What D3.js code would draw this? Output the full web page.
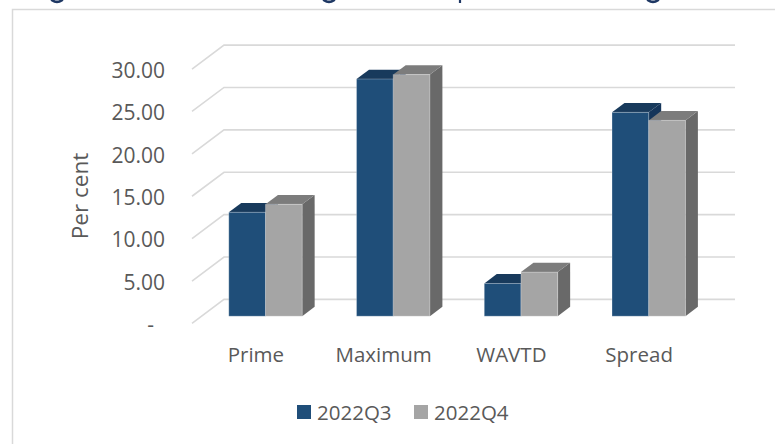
<!DOCTYPE html>
<html>
<head>
<meta charset="utf-8">
<script src="https://cdn.jsdelivr.net/npm/d3@7/dist/d3.min.js"></script>
<style>
  html, body { margin: 0; padding: 0; background: #fff; overflow: hidden; }
  svg { display: block; }
  text { font-family: "Open Sans", sans-serif; fill: #595959; }
  .axis path, .axis line { display: none; }
</style>
</head>
<body>
<svg id="chart" width="775" height="444"></svg>
<script>
// Lending rates by category, per cent
const categories = ["Prime", "Maximum", "WAVTD", "Spread"];
const seriesNames = ["2022Q3", "2022Q4"];
const values2022Q3 = [12.26, 27.98, 3.86, 24.05];
const values2022Q4 = [13.2, 28.5, 5.2, 23.1];
const axisTicks = [0, 5, 10, 15, 20, 25, 30];
const headingTailCentres = [57, 329, 653];
const headingStemCentres = [460];

const W = 775, H = 444;
const svg = d3.select("#chart");

// Oblique projection of the 3-D floor: depth 0 is the front edge, 1 the back wall
const depthX = d3.scaleLinear().domain([0, 1]).range([0, 32]);
const depthY = d3.scaleLinear().domain([0, 1]).range([0, -24]);
const barFront = 0.3, barBack = 0.69;

const x = d3.scaleBand().domain(categories).range([192, 703])
  .paddingInner(0.4255).paddingOuter(0.2128);
const inner = d3.scaleBand().domain(seriesNames).range([0, x.bandwidth()]);
const y = d3.scaleLinear().domain([0, 30]).range([323.4, 69.1]);
const colour = d3.scaleOrdinal().domain(seriesNames).range(["#1f4e79", "#a5a5a5"]);
const topColour = d3.scaleOrdinal().domain(seriesNames).range(["#183a5c", "#7c7c7c"]);
const sideColour = d3.scaleOrdinal().domain(seriesNames).range(["#15355a", "#696969"]);

// Chart frame, running past the right and bottom edges of the page
svg.append("rect")
  .attr("x", 12.5).attr("y", 9.5).attr("width", W).attr("height", H)
  .attr("fill", "#fff").attr("stroke", "#d9d9d9").attr("stroke-width", 1.5);

// Strokes of the heading that reach below the top edge of the page
const headingTail = svg.append("g").attr("fill", "none").attr("stroke", "#1f3864");
headingTail.selectAll("path").data(headingTailCentres).join("path")
  .attr("stroke-width", 2.6).attr("stroke-linecap", "round")
  .attr("d", c => `M${c - 5},0.2Q${c},3.6 ${c + 5},0.2`);
headingTail.selectAll("line").data(headingStemCentres).join("line")
  .attr("stroke-width", 2.2)
  .attr("x1", c => c).attr("x2", c => c).attr("y1", 0).attr("y2", 3);

// Gridlines: the floor-side diagonal plus the run along the back wall
const wallRight = x.range()[1] + depthX(1);
const gridLine = d3.line();
svg.append("g").selectAll("path").data(axisTicks).join("path")
  .attr("fill", "none").attr("stroke", "#d9d9d9").attr("stroke-width", 1.6)
  .attr("d", t => gridLine([
    [x.range()[0], y(t)],
    [x.range()[0] + depthX(1), y(t) + depthY(1)],
    [wallRight, y(t) + depthY(1)]
  ]));

// Value axis, printed against the front edge
const tickFormat = v => v === 0 ? "-" : d3.format(".2f")(v);
const yAxis = svg.append("g").attr("class", "axis")
  .attr("transform", "translate(165,0)")
  .call(d3.axisLeft(y).tickValues(axisTicks).tickFormat(tickFormat).tickSize(0).tickPadding(0));
yAxis.selectAll("text").style("font-size", "21px").attr("dy", "0.32em")
  .attr("transform", "translate(0,1.5)");
yAxis.selectAll("text").filter(d => d === 0).attr("x", -11);

// Category axis
const xAxis = svg.append("g").attr("class", "axis")
  .attr("transform", "translate(0,340)")
  .call(d3.axisBottom(x).tickSize(0).tickPadding(0));
xAxis.selectAll("text").style("font-size", "20.5px").attr("dy", "0.71em").attr("y", 7);

// Axis title
svg.append("text")
  .attr("transform", "translate(88,196) rotate(-90)")
  .attr("text-anchor", "middle").attr("font-size", 22.5)
  .text("Per cent");

// Cuboid bars, painted series by series so later bars overlap earlier ones
const rows = categories.flatMap((c, i) => [
  { category: c, series: seriesNames[0], value: values2022Q3[i] },
  { category: c, series: seriesNames[1], value: values2022Q4[i] }
]);
const poly = pts => d3.line()(pts) + "Z";
const barGroups = svg.append("g").selectAll("g").data(rows).join("g");
barGroups.each(function (d) {
  const g = d3.select(this);
  const x0 = x(d.category) + inner(d.series) + depthX(barFront);
  const x1 = x0 + inner.bandwidth();
  const yBase = y(0) + depthY(barFront);
  const yTop = y(d.value) + depthY(barFront);
  const dx = depthX(barBack - barFront), dy = depthY(barBack - barFront);
  g.append("path").attr("fill", sideColour(d.series))
    .attr("d", poly([[x1, yTop], [x1 + dx, yTop + dy], [x1 + dx, yBase + dy], [x1, yBase]]));
  g.append("path").attr("fill", topColour(d.series))
    .attr("d", poly([[x0, yTop], [x0 + dx, yTop + dy], [x1 + dx, yTop + dy], [x1, yTop]]));
  g.append("rect").attr("fill", colour(d.series))
    .attr("stroke", "#fff").attr("stroke-opacity", 0.25).attr("stroke-width", 1)
    .attr("x", x0).attr("y", yTop).attr("width", x1 - x0).attr("height", yBase - yTop);
});

// Legend
const legendX = d3.scaleOrdinal().domain(seriesNames).range([297, 414]);
const legend = svg.append("g").selectAll("g").data(seriesNames).join("g")
  .attr("transform", s => `translate(${legendX(s)},405)`);
legend.append("rect").attr("width", 14).attr("height", 14).attr("fill", s => colour(s));
legend.append("text").attr("x", 20).attr("y", 15).attr("font-size", 20.5).text(s => s);
</script>
</body>
</html>
